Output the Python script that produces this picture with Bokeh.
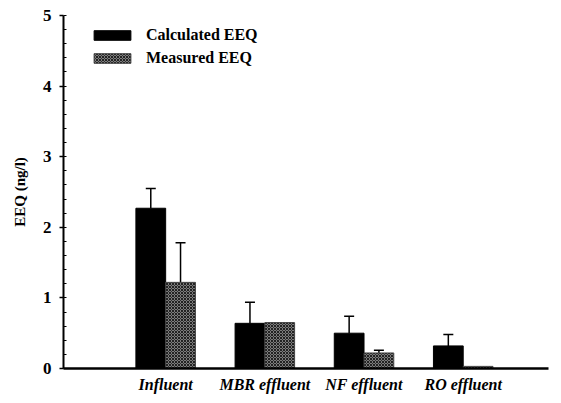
from bokeh.plotting import figure
from bokeh.models import (ColumnDataSource, FixedTicker, Legend, LegendItem,
                          Whisker, TeeHead, Range1d)
from bokeh.embed import file_html
from bokeh.resources import INLINE

categories = ["Influent", "MBR effluent", "NF effluent", "RO effluent"]
calculated = [2.27, 0.64, 0.50, 0.32]
calculated_err = [0.28, 0.30, 0.24, 0.16]
measured = [1.22, 0.65, 0.22, 0.03]
measured_err = [0.56, 0.0, 0.04, 0.0]
y_ticks = [0, 1, 2, 3, 4, 5]

idx = list(range(len(categories)))
off = 0.15
bw = 0.3

calc_src = ColumnDataSource(dict(x=[i - off for i in idx], top=calculated))
meas_src = ColumnDataSource(dict(x=[i + off for i in idx], top=measured))

FONT = "'Liberation Serif', serif"

p = figure(width=553, height=395, output_backend="svg", toolbar_location=None,
           x_range=Range1d(-1.03, 3.86), y_range=Range1d(0, 5))
p.min_border_left = 63
p.min_border_right = 5
p.min_border_top = 15
p.min_border_bottom = 24
p.outline_line_color = None
p.xgrid.visible = False
p.ygrid.visible = False
p.background_fill_color = "white"

r_calc = p.vbar(x="x", top="top", width=bw, source=calc_src,
                fill_color="black", line_color="black")
r_meas = p.vbar(x="x", top="top", width=bw, source=meas_src,
                fill_color="#7c7c7c", line_color="#444444",
                hatch_pattern="x", hatch_scale=3, hatch_color="#222222",
                hatch_weight=1)

def add_err(xs, vals, errs):
    bx, lo, hi = [], [], []
    for x, v, e in zip(xs, vals, errs):
        if e > 0:
            bx.append(x); lo.append(v); hi.append(v + e)
    src = ColumnDataSource(dict(base=bx, lower=lo, upper=hi))
    w = Whisker(base="base", lower="lower", upper="upper", source=src,
                dimension="height", line_color="black", line_width=1.5,
                lower_head=None,
                upper_head=TeeHead(size=10, line_width=1.5, line_color="black"))
    p.add_layout(w)

add_err([i - off for i in idx], calculated, calculated_err)
add_err([i + off for i in idx], measured, measured_err)

# axes
xa = p.xaxis[0]
xa.ticker = FixedTicker(ticks=idx)
xa.major_label_overrides = {i: c for i, c in zip(idx, categories)}
xa.major_tick_out = 0
xa.major_tick_in = 0
xa.minor_tick_out = 0
xa.minor_tick_in = 0
xa.axis_line_width = 2.5
xa.axis_line_color = "black"
xa.major_label_text_font = FONT
xa.major_label_text_font_style = "bold italic"
xa.major_label_text_font_size = "16px"
xa.major_label_text_color = "black"
xa.major_label_standoff = 7

ya = p.yaxis[0]
ya.ticker = FixedTicker(ticks=y_ticks, minor_ticks=[i * 0.2 for i in range(26)])
ya.major_tick_out = 4
ya.major_tick_in = 0
ya.minor_tick_out = 0
ya.minor_tick_in = 3
ya.major_tick_line_width = 1.5
ya.axis_line_width = 2
ya.axis_line_color = "black"
ya.major_label_text_font = FONT
ya.major_label_text_font_style = "bold"
ya.major_label_text_font_size = "17px"
ya.major_label_text_color = "black"
ya.major_label_standoff = 8
ya.axis_label = "EEQ (ng/l)"
ya.axis_label_text_font = FONT
ya.axis_label_text_font_style = "bold"
ya.axis_label_text_font_size = "15px"
ya.axis_label_text_color = "black"
ya.axis_label_standoff = 12

legend = Legend(items=[LegendItem(label="Calculated EEQ", renderers=[r_calc]),
                       LegendItem(label="Measured EEQ", renderers=[r_meas])],
                location=(26, 300))
legend.border_line_color = None
legend.background_fill_alpha = 0
legend.padding = 0
legend.margin = 0
legend.spacing = 3
legend.glyph_width = 46
legend.glyph_height = 12
legend.label_height = 20
legend.label_standoff = 11
legend.label_text_font = FONT
legend.label_text_font_style = "bold"
legend.label_text_font_size = "16px"
legend.label_text_color = "black"
p.add_layout(legend)

open("out.html", "w").write(file_html(p, INLINE))
